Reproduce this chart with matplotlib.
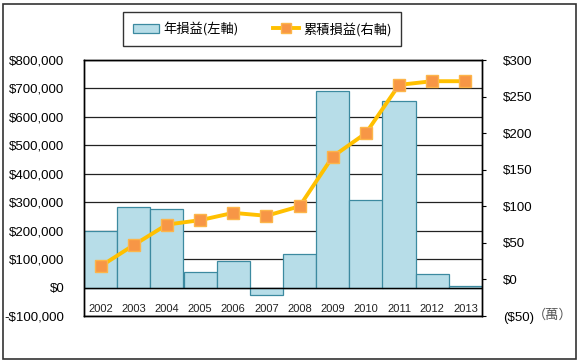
# Annual and cumulative P&L chart.

import matplotlib
matplotlib.use("Agg")
import matplotlib.pyplot as plt
from matplotlib.patches import Rectangle
from matplotlib.ticker import FuncFormatter, MultipleLocator

plt.rcParams['font.family'] = ['Liberation Sans', 'Noto Sans CJK TC', 'DejaVu Sans']

# Data.
years = ['2002', '2003', '2004', '2005', '2006', '2007',
         '2008', '2009', '2010', '2011', '2012', '2013']
annual_pl = [198000, 282000, 276000, 56000, 95000, -25000,
             119000, 690000, 309000, 656000, 48000, 6000]
cumulative_pl = [18, 47, 75, 81, 91, 87, 100, 168, 200, 266, 271, 271]

bar_label = '年損益(左軸)'
line_label = '累積損益(右軸)'

# Colours.
bar_fill = '#B7DDE8'
bar_edge = '#3C8AA0'
line_col = '#FFC000'
marker_col = '#F79646'

fig = plt.figure(figsize=(5.8, 3.62), dpi=100)
fig.patch.set_facecolor('white')
ax = fig.add_axes([84/580, 46/362, 398/580, 256/362])
ax2 = ax.twinx()

x = list(range(len(years)))

# Bars on the left axis.
ax.bar(x, annual_pl, width=1.0, color=bar_fill, edgecolor=bar_edge,
       linewidth=0.9, zorder=2)
ax.set_xlim(-0.5, len(years) - 0.5)
ax.set_ylim(-100000, 800000)
ax.yaxis.set_major_locator(MultipleLocator(100000))
ax.yaxis.grid(True, color='#222222', linewidth=0.9, zorder=1)
ax.set_axisbelow(True)
ax.axhline(0, color='black', linewidth=1.0, zorder=3)


def left_fmt(v, pos):
    if v < 0:
        return '-${:,.0f}'.format(-v)
    return '${:,.0f}'.format(v)


ax.yaxis.set_major_formatter(FuncFormatter(left_fmt))
ax.tick_params(axis='y', length=0, pad=14, labelsize=9.5)
ax.set_xticks([])

# Year labels sit inside the plot, below the zero line.
for i, yr in enumerate(years):
    ax.text(i, -74000, yr, ha='center', va='center', fontsize=8, color='#222222')

# Cumulative line on the right axis.
ax2.plot(x, cumulative_pl, color=line_col, linewidth=2.8, marker='s',
         markersize=9, markerfacecolor=marker_col, markeredgecolor='#FDB54A',
         markeredgewidth=1.0, zorder=4)
ax2.set_ylim(-50, 300)
ax2.yaxis.set_major_locator(MultipleLocator(50))


def right_fmt(v, pos):
    if v < 0:
        return '(${:,.0f})'.format(-v)
    return '${:,.0f}'.format(v)


ax2.yaxis.set_major_formatter(FuncFormatter(right_fmt))
ax2.tick_params(axis='y', length=3, width=0.8, pad=12, labelsize=9.5)

for a in (ax, ax2):
    for sp in a.spines.values():
        sp.set_color('black')
        sp.set_linewidth(1.0)

# Unit note beside the lowest right label.
fig.text(533/580, 1 - 315/362, '（萬）', fontsize=9.5, color='#555555',
         family=['Noto Sans CJK TC'], ha='left', va='center')

# Legend.
h_bar = Rectangle((0, 0), 1, 1, facecolor=bar_fill, edgecolor=bar_edge, linewidth=0.9)
h_line = plt.Line2D([], [], color=line_col, linewidth=2.8, marker='s',
                    markersize=7, markerfacecolor=marker_col, markeredgecolor='#FDB54A')
leg = fig.legend([h_bar, h_line], [bar_label, line_label], loc='center',
                 bbox_to_anchor=(262/580, 1 - 29/362), ncol=2, frameon=True,
                 fancybox=False, edgecolor='black',
                 prop={'family': ['Noto Sans CJK TC'], 'size': 9.5},
                 handlelength=2.0, handletextpad=0.3, columnspacing=2.6,
                 borderpad=0.75, borderaxespad=0)
leg.get_frame().set_linewidth(1.0)

# Outer border around the whole chart.
fig.add_artist(Rectangle((3/580, 3/362), 573/580, 355/362, transform=fig.transFigure,
                         fill=False, edgecolor='#333333', linewidth=1.2))

plt.savefig('out.png', dpi=100)
